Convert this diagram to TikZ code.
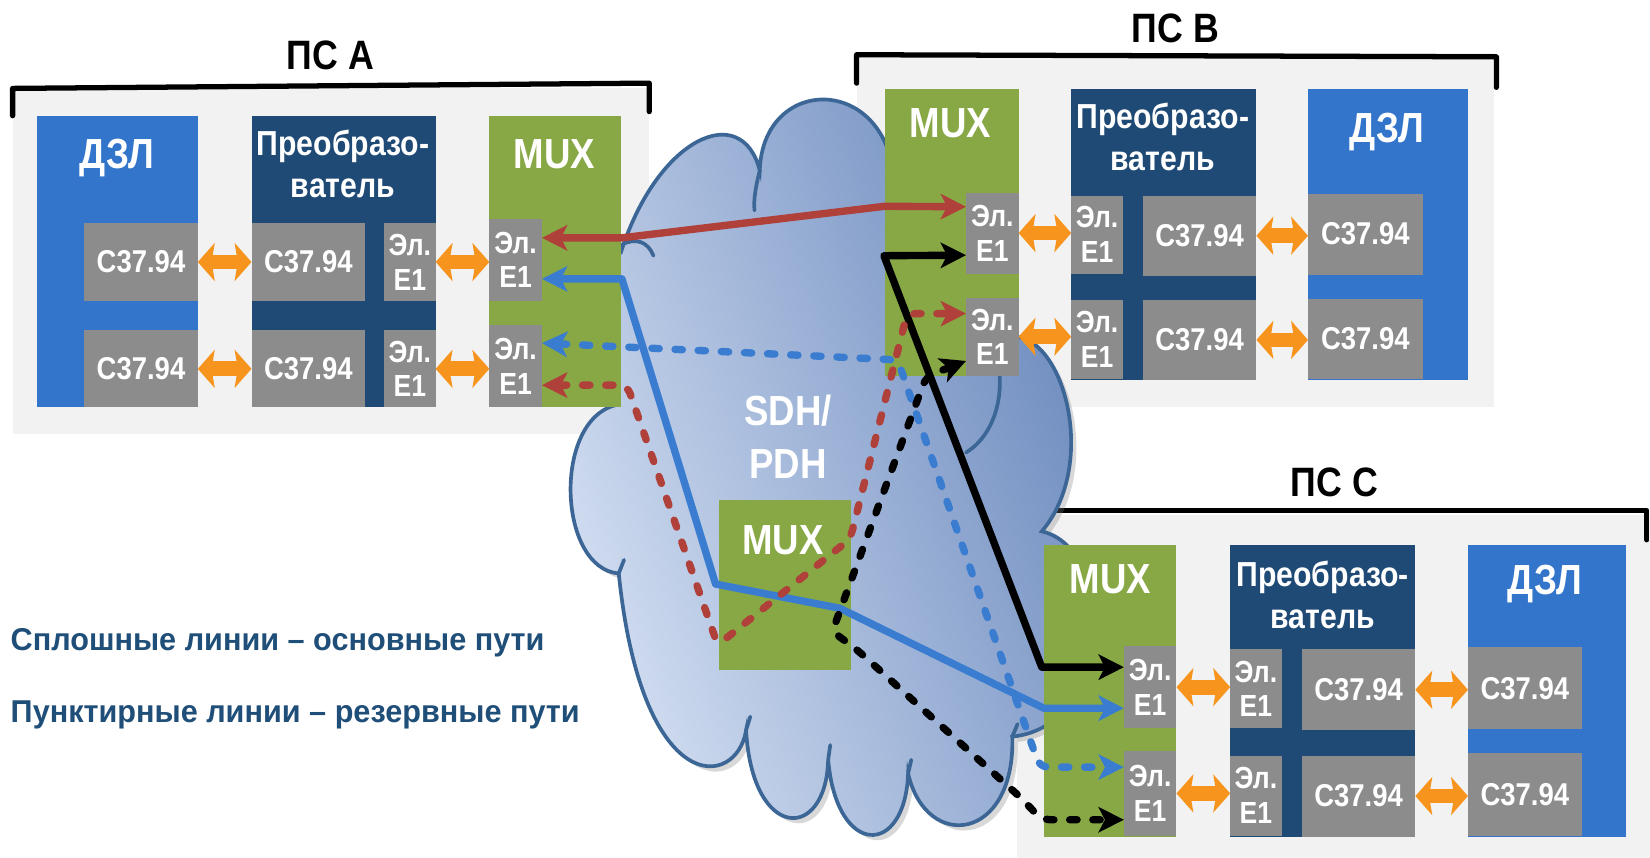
\documentclass[tikz,border=0pt]{standalone}
\usepackage{fontspec}
\setmainfont{Liberation Sans}[FakeStretch=0.87]
\newfontfamily\legfont{Liberation Sans}[FakeStretch=0.97]
\usetikzlibrary{arrows.meta,fit,shadows}

\definecolor{dzl}{RGB}{51,117,203}
\definecolor{conv}{RGB}{31,74,117}
\definecolor{mux}{RGB}{136,168,70}
\definecolor{gbox}{RGB}{140,140,140}
\definecolor{orng}{RGB}{247,148,29}
\definecolor{redl}{RGB}{176,64,58}
\definecolor{bluel}{RGB}{58,125,208}
\definecolor{legendc}{RGB}{31,78,121}
\definecolor{panel}{RGB}{242,242,242}
\definecolor{cloudE}{RGB}{59,102,150}
\definecolor{cloudL}{RGB}{214,225,243}
\definecolor{cloudD}{RGB}{104,135,188}

\newcommand\mkbox[6]{\node[rect,fill=#2,fit={(#3,#4)(#5,#6)}] (#1) {};}

\tikzset{
  rect/.style={draw=none,inner sep=0pt,outer sep=0pt},
  wt/.style={text=white,inner sep=0pt,align=center},
  ttl/.style={wt,anchor=base,font=\bfseries\fontsize{40}{44}\selectfont},
  cvt/.style={wt,font=\bfseries\fontsize{33}{40}\selectfont},
  cnum/.style={wt,font=\bfseries\fontsize{30}{34}\selectfont},
  eone/.style={wt,font=\bfseries\fontsize{29}{33}\selectfont},
  pslbl/.style={anchor=base,inner sep=0pt,font=\bfseries\fontsize{39}{44}\selectfont},
  leg/.style={anchor=base west,inner sep=0pt,text=legendc,font=\legfont\bfseries\fontsize{30}{36}\selectfont},
  brk/.style={line width=5pt,line cap=round,line join=round},
  oarr/.style={draw=orng,line width=14pt,{Stealth[length=16pt,width=36pt,inset=3pt]}-{Stealth[length=16pt,width=36pt,inset=3pt]}},
  conn/.style={line width=7pt,line join=round},
  dsh/.style={dash pattern=on 7pt off 15pt,line cap=round},
  >={Stealth[length=24pt,width=24pt,inset=6pt]},
  cloudline/.style={draw=cloudE,line width=3.5pt,line cap=round},
}

\begin{document}
\begin{tikzpicture}[x=1pt,y=-1pt]
\useasboundingbox (0,0) rectangle (1568,815);
\fill[white] (0,0) rectangle (1568,815);

% panels
\node[rect,fill=panel,fit={(12,84)(617,412)}] (panA) {};
\node[rect,fill=panel,fit={(814,50)(1420,387)}] (panB) {};
\node[rect,fill=panel,fit={(966,489)(1568,815)}] (panC) {};

% brackets
\draw[brk] (12,110) -- (12,84) -- (617,79) -- (617,106);
\draw[brk] (814,79) -- (814,52) -- (1422,54) -- (1422,83);
\draw[brk] (966,513) -- (966,485) -- (1565,485) -- (1565,513);

\node[pslbl] (tA) at (314,66) {ПС А};
\node[pslbl] (tB) at (1117,40) {ПС В};
\node[pslbl] (tC) at (1268,472) {ПС С};

% cloud
\path[draw=cloudE,line width=3.5pt,left color=cloudL,right color=cloudD,shading angle=110,
      drop shadow={shadow xshift=5pt,shadow yshift=-5pt,opacity=0.3}]
  (585,385) -- (585,240) -- (590,240)
  .. controls (625,130) and (705,95) .. (722,162)
  .. controls (725,70) and (845,70) .. (850,175)
  -- (960,320)
  .. controls (1010,315) and (1045,440) .. (990,505)
  .. controls (1060,520) and (1060,690) .. (962,700)
  .. controls (965,800) and (880,810) .. (863,735)
  .. controls (860,815) and (795,815) .. (787,722)
  .. controls (785,800) and (715,800) .. (709,694)
  .. controls (700,750) and (610,760) .. (588,545)
  .. controls (530,540) and (525,400) .. (585,385) -- cycle;
\draw[cloudline] (590,233) .. controls (604,225) and (616,230) .. (621,243);
\draw[cloudline] (722,162) .. controls (718,178) and (716,190) .. (717,200);
\draw[cloudline] (950,357) .. controls (952,395) and (935,420) .. (918,430);
\draw[cloudline] (863,735) -- (866,722);
\draw[cloudline] (787,722) -- (789,708);
\draw[cloudline] (709,694) -- (713,681);
\draw[cloudline] (588,545) -- (593,532);
\draw[cloudline] (962,700) -- (967,688);

% Panel A boxes
\mkbox{dzlA}{dzl}{35}{110}{188}{387}
\mkbox{cvA}{conv}{239}{110}{414}{387}
\mkbox{muxA}{mux}{465}{110}{590}{387}
\mkbox{dA1}{gbox}{80}{212}{188}{286}
\mkbox{dA2}{gbox}{80}{314}{188}{387}
\mkbox{cA1}{gbox}{239}{212}{347}{286}
\mkbox{cA2}{gbox}{239}{314}{347}{387}
\mkbox{eA1}{gbox}{365}{212}{414}{286}
\mkbox{eA2}{gbox}{365}{314}{414}{387}
\mkbox{mA1}{gbox}{465}{208}{515}{286}
\mkbox{mA2}{gbox}{465}{309}{515}{387}
% Panel B boxes
\mkbox{muxB}{mux}{841}{85}{968}{357}
\mkbox{mB1}{gbox}{918}{183}{968}{260}
\mkbox{mB2}{gbox}{918}{283}{968}{357}
\mkbox{cvB}{conv}{1018}{85}{1194}{361}
\mkbox{eB1}{gbox}{1018}{186}{1067}{260}
\mkbox{eB2}{gbox}{1018}{285}{1067}{360}
\mkbox{cB1}{gbox}{1086}{186}{1194}{262}
\mkbox{cB2}{gbox}{1086}{285}{1194}{361}
\mkbox{dzlB}{dzl}{1243}{85}{1395}{361}
\mkbox{dB1}{gbox}{1243}{184}{1352}{261}
\mkbox{dB2}{gbox}{1243}{284}{1352}{360}
% Panel C boxes
\mkbox{muxC}{mux}{992}{518}{1118}{795}
\mkbox{mC1}{gbox}{1068}{614}{1118}{692}
\mkbox{mC2}{gbox}{1068}{714}{1118}{794}
\mkbox{cvC}{conv}{1169}{518}{1345}{795}
\mkbox{eC1}{gbox}{1169}{617}{1218}{692}
\mkbox{eC2}{gbox}{1169}{718}{1218}{794}
\mkbox{cC1}{gbox}{1237}{617}{1345}{694}
\mkbox{cC2}{gbox}{1237}{718}{1345}{795}
\mkbox{dzlC}{dzl}{1395}{518}{1545}{795}
\mkbox{dC1}{gbox}{1395}{615}{1503}{693}
\mkbox{dC2}{gbox}{1395}{716}{1503}{794}
% middle MUX
\mkbox{muxM}{mux}{683}{475}{809}{637}

% titles of boxes
\node[ttl] (ldzlA) at (111,160) {ДЗЛ};
\node[ttl] (ldzlB) at (1318,135) {ДЗЛ};
\node[ttl] (ldzlC) at (1468,565) {ДЗЛ};
\node[ttl] (lmuxA) at (527,160) {MUX};
\node[ttl] (lmuxB) at (903,131) {MUX};
\node[ttl] (lmuxC) at (1055,564) {MUX};
\node[ttl] (lmuxM) at (744,527) {MUX};
\node[cvt] (lcvA) at (326,156) {Преобразо-\\ватель};
\node[cvt] (lcvB) at (1105,130) {Преобразо-\\ватель};
\node[cvt] (lcvC) at (1257,565) {Преобразо-\\ватель};

% inner labels
\foreach \n in {dA1,dA2,cA1,cA2,cB1,cB2,dB1,dB2,cC1,cC2,dC1,dC2}
  \node[cnum] (t\n) at (\n.center) {C37.94};
\foreach \n in {eA1,eA2,mA1,mA2,mB1,mB2,eB1,eB2,mC1,mC2,eC1,eC2}
  \node[eone] (t\n) at (\n.center) {Эл.\\E1};

% orange links
\draw[oarr] (dA1.east) -- (cA1.west);
\draw[oarr] (dA2.east) -- (cA2.west);
\draw[oarr] (eA1.east) -- (eA1.east -| mA1.west);
\draw[oarr] (eA2.east) -- (eA2.east -| mA2.west);
\draw[oarr] (mB1.east) -- (mB1.east -| eB1.west);
\draw[oarr] (mB2.east) -- (mB2.east -| eB2.west);
\draw[oarr] (cB1.east) -- (cB1.east -| dB1.west);
\draw[oarr] (cB2.east) -- (cB2.east -| dB2.west);
\draw[oarr] (mC1.east) -- (mC1.east -| eC1.west);
\draw[oarr] (mC2.east) -- (mC2.east -| eC2.west);
\draw[oarr] (cC1.east) -- (cC1.east -| dC1.west);
\draw[oarr] (cC2.east) -- (cC2.east -| dC2.west);

% paths
\draw[conn,redl,<->] ([yshift=21pt]mA1.east) -- (591,226) -- (841,196) -- ([yshift=25pt]mB1.west);
\draw[conn,bluel,<->] ([yshift=-18pt]mA1.east) -- (591,265) -- (680,555) -- (798,578) -- (992,673) -- ([yshift=-20pt]mC1.west);
\draw[conn,black,<->] ([yshift=-21pt]mB1.west) -- (840,243) -- (990,634) -- ([yshift=19pt]mC1.west);
\draw[conn,dsh,bluel,<->,rounded corners=8pt] ([yshift=22pt]mA2.east) -- (853,342) -- (988,729) -- ([yshift=25pt]mC2.west);
\draw[conn,dsh,redl,<->,rounded corners=8pt] ([yshift=-18pt]mA2.east) -- (596,366) -- (682,613) -- (808,512) -- (862,298) -- ([yshift=22pt]mB2.west);
\draw[conn,dsh,black,<->,rounded corners=8pt] ([yshift=-23pt]mB2.west) -- (880,358) -- (791,600) -- (815,618) -- (970,758) -- (990,779) -- ([yshift=-25pt]mC2.west);

% cloud text and legend
\node[wt,font=\bfseries\fontsize{40}{50}\selectfont] (sdh) at (749,415) {SDH/\\PDH};
\node[leg] (leg1) at (10,618) {Сплошные линии – основные пути};
\node[leg] (leg2) at (10,687) {Пунктирные линии – резервные пути};
\end{tikzpicture}
\end{document}
